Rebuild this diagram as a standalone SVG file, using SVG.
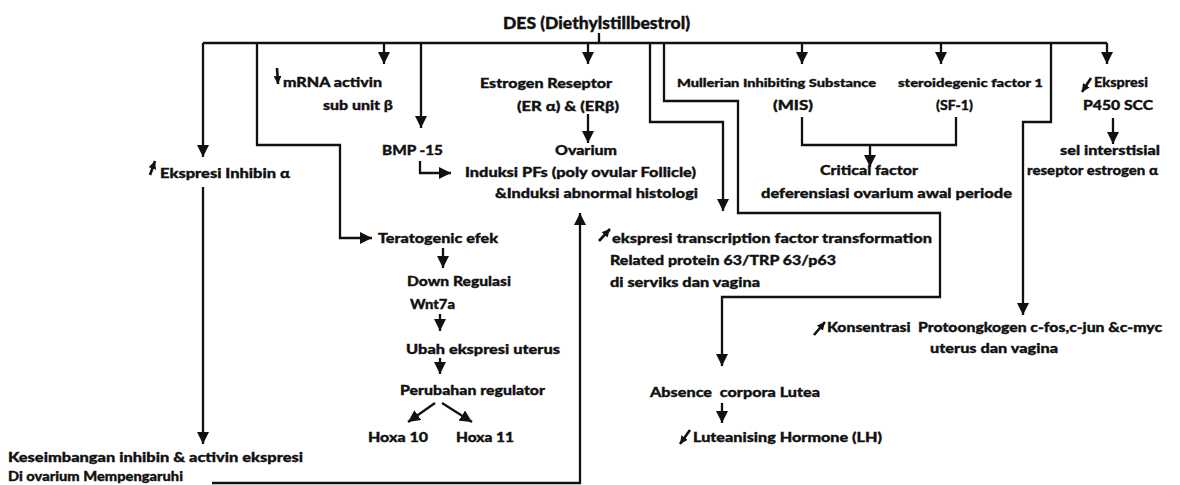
<svg xmlns="http://www.w3.org/2000/svg" width="1180" height="485" viewBox="0 0 1180 485">
<style>
text{font-family:Lato,"Open Sans","Liberation Sans",sans-serif;font-weight:900;font-size:14px;fill:#111;stroke:#111;stroke-width:0.35}
.s{font-size:12px}
.t{font-size:16px}
.c{fill:none;stroke:#111;stroke-width:2.3;marker-end:url(#ah)}
.l{fill:none;stroke:#111;stroke-width:2.3}
.i{fill:none;stroke:#111;stroke-width:2.6;marker-end:url(#ai)}
</style>
<defs>
<marker id="ah" markerUnits="userSpaceOnUse" markerWidth="12" markerHeight="12" viewBox="0 0 12 12" refX="12" refY="6" orient="auto"><path d="M0,0 L12,6 L0,12 z" fill="#111"/></marker>
<marker id="ai" markerUnits="userSpaceOnUse" markerWidth="8" markerHeight="8" viewBox="0 0 8 8" refX="8" refY="4" orient="auto"><path d="M0,0 L8,4 L0,8 z" fill="#111"/></marker>
</defs>
<rect width="1180" height="485" fill="#fff"/>
<g id="connectors">
<path class="l" d="M599,33 V43 M203,43 H1107"/>
<path class="c" d="M203,43 V157"/>
<path class="c" d="M257,43 V145 H340 V238 H372"/>
<path class="c" d="M384,43 V64"/>
<path class="c" d="M421,43 V128"/>
<path class="c" d="M420,161 V173 H451"/>
<path class="c" d="M588,43 V64"/>
<path class="c" d="M588,114 V143"/>
<path class="c" d="M650,43 V122 H723 V211"/>
<path class="c" d="M664,43 V101 H738 V213 H940 V297 H722 V366"/>
<path class="c" d="M802,43 V64"/>
<path class="c" d="M941,43 V64"/>
<path class="l" d="M802,117 V145 H956 V117"/>
<path class="c" d="M870,145 V167"/>
<path class="c" d="M1051,43 V122 H1023 V315"/>
<path class="c" d="M1107,43 V64"/>
<path class="c" d="M1113,118 V144"/>
<path class="c" d="M203,187 V444"/>
<path class="c" d="M212,483 H580 V213"/>
<path class="c" d="M443,248 V268"/>
<path class="c" d="M440,314 V331"/>
<path class="c" d="M440,358 V374"/>
<path class="c" d="M435,403 L408,422"/>
<path class="c" d="M442,403 L472,422"/>
<path class="c" d="M722,403 V423"/>
</g>
<g id="icons">
<path class="i" d="M277,68 L278,84"/>
<path class="i" d="M150,175 L155,161"/>
<path class="i" d="M1091,78 L1082,92"/>
<path class="i" d="M599,241 L610,229"/>
<path class="i" d="M814,335 L825,322"/>
<path class="i" d="M690,430 L680,444"/>
</g>
<g id="n-des"><text class="t" x="503" y="29" textLength="187" lengthAdjust="spacingAndGlyphs">DES (Diethylstillbestrol)</text></g>
<g id="n-mrna"><text x="283" y="87" textLength="99" lengthAdjust="spacingAndGlyphs">mRNA activin</text><text x="323" y="110" textLength="70" lengthAdjust="spacingAndGlyphs">sub unit β</text></g>
<g id="n-bmp"><text x="382" y="155" textLength="61" lengthAdjust="spacingAndGlyphs">BMP -15</text></g>
<g id="n-er"><text x="480" y="88" textLength="132" lengthAdjust="spacingAndGlyphs">Estrogen Reseptor</text><text x="517" y="111" textLength="102" lengthAdjust="spacingAndGlyphs">(ER α) &amp; (ERβ)</text></g>
<g id="n-ovarium"><text x="555" y="155" textLength="62" lengthAdjust="spacingAndGlyphs">Ovarium</text><text x="465" y="177" textLength="231" lengthAdjust="spacingAndGlyphs">Induksi PFs (poly ovular Follicle)</text><text x="495" y="198" textLength="203" lengthAdjust="spacingAndGlyphs">&amp;Induksi abnormal histologi</text></g>
<g id="n-mis"><text class="s" x="677" y="87" textLength="199" lengthAdjust="spacingAndGlyphs">Mullerian Inhibiting Substance</text><text x="773" y="110" textLength="40" lengthAdjust="spacingAndGlyphs">(MIS)</text></g>
<g id="n-sf1"><text class="s" x="898" y="87" textLength="145" lengthAdjust="spacingAndGlyphs">steroidegenic factor 1</text><text x="936" y="110" textLength="37" lengthAdjust="spacingAndGlyphs">(SF-1)</text></g>
<g id="n-critical"><text x="820" y="175" textLength="98" lengthAdjust="spacingAndGlyphs">Critical factor</text><text x="761" y="198" textLength="251" lengthAdjust="spacingAndGlyphs">deferensiasi ovarium awal periode</text></g>
<g id="n-p450"><text x="1094" y="87" textLength="54" lengthAdjust="spacingAndGlyphs">Ekspresi</text><text x="1083" y="110" textLength="70" lengthAdjust="spacingAndGlyphs">P450 SCC</text></g>
<g id="n-sel"><text x="1060" y="155" textLength="100" lengthAdjust="spacingAndGlyphs">sel interstisial</text><text x="1027" y="175" textLength="131" lengthAdjust="spacingAndGlyphs">reseptor estrogen α</text></g>
<g id="n-inhibin"><text x="160" y="178" textLength="130" lengthAdjust="spacingAndGlyphs">Ekspresi Inhibin α</text></g>
<g id="n-terato"><text x="378" y="243" textLength="120" lengthAdjust="spacingAndGlyphs">Teratogenic efek</text></g>
<g id="n-down"><text x="407" y="286" textLength="104" lengthAdjust="spacingAndGlyphs">Down Regulasi</text><text x="410" y="309" textLength="45" lengthAdjust="spacingAndGlyphs">Wnt7a</text></g>
<g id="n-ubah"><text x="406" y="354" textLength="154" lengthAdjust="spacingAndGlyphs">Ubah ekspresi uterus</text></g>
<g id="n-perubahan"><text x="400" y="395" textLength="145" lengthAdjust="spacingAndGlyphs">Perubahan regulator</text></g>
<g id="n-hoxa10"><text x="368" y="442" textLength="60" lengthAdjust="spacingAndGlyphs">Hoxa 10</text></g>
<g id="n-hoxa11"><text x="456" y="442" textLength="58" lengthAdjust="spacingAndGlyphs">Hoxa 11</text></g>
<g id="n-trp63"><text x="612" y="243" textLength="320" lengthAdjust="spacingAndGlyphs">ekspresi transcription factor transformation</text><text x="610" y="265" textLength="226" lengthAdjust="spacingAndGlyphs">Related protein 63/TRP 63/p63</text><text x="610" y="287" textLength="150" lengthAdjust="spacingAndGlyphs">di serviks dan vagina</text></g>
<g id="n-absence"><text x="650" y="397" textLength="170" lengthAdjust="spacingAndGlyphs" xml:space="preserve">Absence  corpora Lutea</text></g>
<g id="n-lh"><text x="693" y="442" textLength="189" lengthAdjust="spacingAndGlyphs">Luteanising Hormone (LH)</text></g>
<g id="n-konsentrasi"><text x="827" y="332" textLength="335" lengthAdjust="spacingAndGlyphs" xml:space="preserve">Konsentrasi  Protoongkogen c-fos,c-jun &amp;c-myc</text><text x="930" y="353" textLength="128" lengthAdjust="spacingAndGlyphs">uterus dan vagina</text></g>
<g id="n-keseimbangan"><text x="8" y="462" textLength="295" lengthAdjust="spacingAndGlyphs">Keseimbangan inhibin &amp; activin ekspresi</text><text x="8" y="481" textLength="175" lengthAdjust="spacingAndGlyphs">Di ovarium Mempengaruhi</text></g>
</svg>
